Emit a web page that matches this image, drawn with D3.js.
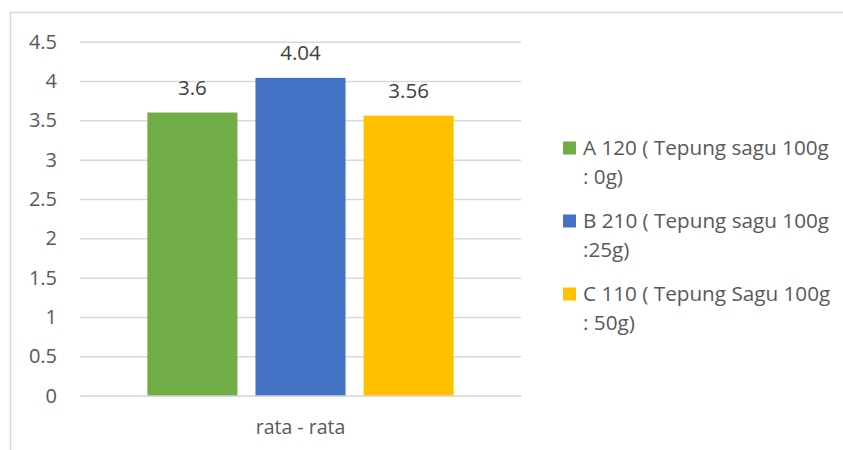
<html>
<head>
<meta charset="utf-8">
<title>rata - rata</title>
<script src="https://d3js.org/d3.v7.min.js"></script>
<style>
  body { margin: 0; background: #fff; }
  text { font-family: "Open Sans", "Noto Sans", sans-serif; }
</style>
</head>
<body>
<svg width="843" height="450"></svg>
<script>
var categories = ["rata - rata"];
var seriesNames = ["A 120 ( Tepung sagu 100g|: 0g)", "B 210 ( Tepung sagu 100g|:25g)", "C 110 ( Tepung Sagu 100g|: 50g)"];
var seriesValues = [3.6, 4.04, 3.56];
var seriesColors = ["#70ad47", "#4472c4", "#ffc000"];
var yTicks = [0, 0.5, 1, 1.5, 2, 2.5, 3, 3.5, 4, 4.5];

var svg = d3.select("svg");
var plot = {left: 80, right: 521, top: 41.7, bottom: 395.7};

// outer frame (cropped chart-area border)
svg.append("path")
    .attr("d", "M10.5,450 V12.5 H843")
    .attr("fill", "none")
    .attr("stroke", "#d9d9d9")
    .attr("stroke-width", 1.5);

var y = d3.scaleLinear().domain([0, 4.5]).range([plot.bottom, plot.top]);
var x0 = d3.scaleBand().domain(categories).range([plot.left, plot.right]).paddingInner(0).paddingOuter(0.22);
var x1 = d3.scaleBand().domain(d3.range(seriesValues.length)).range([0, x0.bandwidth()]).paddingInner(0.167).paddingOuter(0);

// gridlines + tick labels
var yAxis = svg.append("g")
    .attr("transform", `translate(${plot.left},0)`)
    .call(d3.axisLeft(y).tickValues(yTicks).tickSize(-(plot.right - plot.left)).tickPadding(23).tickFormat(d => d));
yAxis.select(".domain").remove();
yAxis.selectAll(".tick line").attr("stroke", "#d9d9d9").attr("stroke-width", 1.5);
yAxis.selectAll(".tick text").attr("fill", "#595959").attr("font-family", null).style("font-size", "20px");

// bars
var g = svg.append("g");
categories.forEach(function(cat) {
  g.selectAll(".bar")
    .data(seriesValues)
    .enter().append("rect")
      .attr("class", "bar")
      .attr("x", (d, i) => x0(cat) + x1(i))
      .attr("y", d => y(d))
      .attr("width", x1.bandwidth())
      .attr("height", d => plot.bottom - y(d))
      .attr("fill", (d, i) => seriesColors[i]);
  g.selectAll(".lbl")
    .data(seriesValues)
    .enter().append("text")
      .attr("class", "lbl")
      .attr("x", (d, i) => x0(cat) + x1(i) + x1.bandwidth() / 2)
      .attr("y", d => y(d) - 18)
      .attr("text-anchor", "middle")
      .attr("fill", "#404040")
      .style("font-size", "20.5px")
      .text(d => d);
});

// category axis
var xAxis = svg.append("g")
    .attr("transform", `translate(0,${plot.bottom})`)
    .call(d3.axisBottom(x0).tickSize(0).tickPadding(24));
xAxis.select(".domain").attr("stroke", "#d9d9d9").attr("stroke-width", 1.5);
xAxis.selectAll(".tick text").attr("fill", "#595959").style("font-size", "19.5px").attr("font-family", null);

// legend
var legend = svg.append("g").attr("transform", "translate(563,0)");
var entryY = [148, 221, 294];
seriesNames.forEach(function(name, i) {
  var e = legend.append("g").attr("transform", `translate(0,${entryY[i]})`);
  e.append("rect").attr("x", 0).attr("y", -6.5).attr("width", 13).attr("height", 13).attr("fill", seriesColors[i]);
  var t = e.append("text").attr("fill", "#595959").style("font-size", "20.7px");
  name.split("|").forEach(function(line, j) {
    t.append("tspan").attr("x", 20).attr("y", j * 29 + 7).text(line);
  });
});
</script>
</body>
</html>
